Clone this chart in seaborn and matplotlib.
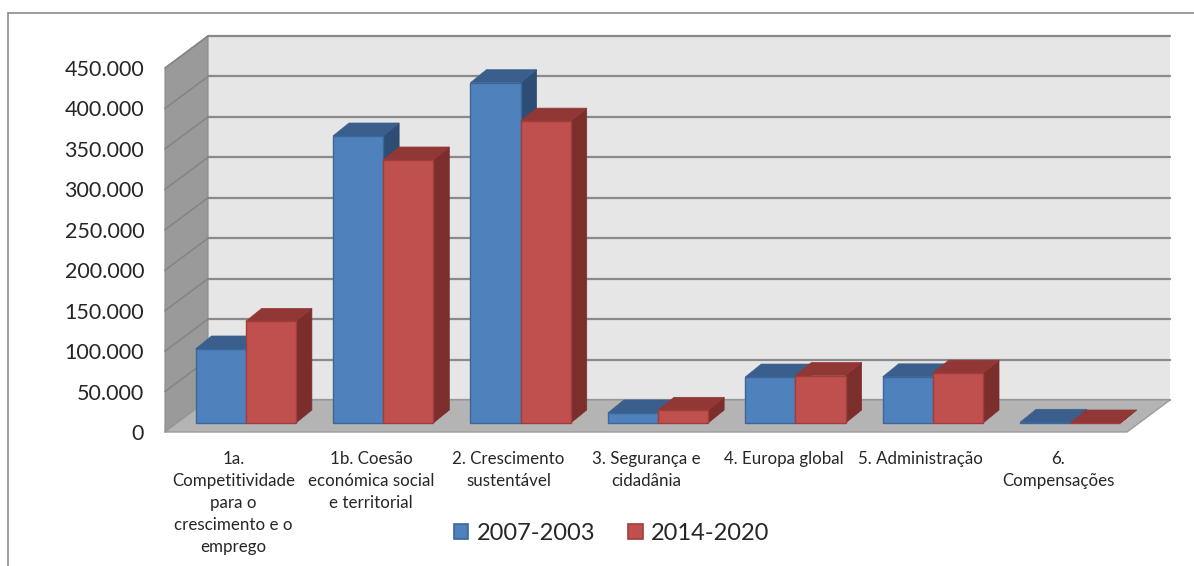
import matplotlib
matplotlib.use("Agg")
import matplotlib.pyplot as plt
import pandas as pd
import seaborn as sns
from matplotlib.patches import Polygon
from matplotlib.lines import Line2D

# ---- data (million EUR) ----
categories = [
    "1a.\nCompetitividade\npara o\ncrescimento e o\nemprego",
    "1b. Coesão\neconómica social\ne territorial",
    "2. Crescimento\nsustentável",
    "3. Segurança e\ncidadânia",
    "4. Europa global",
    "5. Administração",
    "6.\nCompensações",
]
periods = ["2007-2003", "2014-2020"]
values_2007 = [91495, 354815, 420682, 12366, 56815, 57082, 868]
values_2014 = [125614, 325149, 373179, 15686, 58704, 61629, 27]
y_ticks = [0, 50000, 100000, 150000, 200000, 250000, 300000, 350000, 400000, 450000]
y_tick_labels = [f"{v:,}".replace(",", ".") for v in y_ticks]

# ---- colours ----
front_col = ["#4f81bd", "#c0504d"]
edge_col = ["#3b679a", "#a03e3b"]
top_col = ["#3a5f8d", "#913836"]
side_col = ["#2e4d74", "#7c2e2c"]

df = pd.DataFrame({
    "categoria": categories * 2,
    "valor": values_2007 + values_2014,
    "periodo": [periods[0]] * len(categories) + [periods[1]] * len(categories),
})

sns.set_theme(style="white")
plt.rcParams["font.family"] = ["Lato", "DejaVu Sans"]

W, H = 1194, 566
fig = plt.figure(figsize=(W / 100, H / 100), dpi=100)
fig.patch.set_facecolor("white")

# front plane of the 3-D box, in pixels
x_left, x_right = 165, 1127
y_zero, y_max = 432, 68
ax = fig.add_axes([x_left / W, (H - y_zero) / H, (x_right - x_left) / W, (y_zero - y_max) / H])

ymax = y_ticks[-1]
ncat = len(categories)
px_per_cat = (x_right - x_left) / ncat
px_per_val = (y_zero - y_max) / ymax


def depth(px, py):
    """Convert a pixel depth shift into data units."""
    return px / px_per_cat, py / px_per_val


wall_dx, wall_dy = depth(43, 32)      # full depth of the box
bar_fx, bar_fy = depth(12, 9)         # front face of the bars
bar_bx, bar_by = depth(28, 22)        # back face of the bars

sns.barplot(data=df, x="categoria", y="valor", hue="periodo", order=categories,
            hue_order=periods, palette=front_col, width=0.73, saturation=1,
            ax=ax, legend=True)

ax.set_xlim(-0.5, ncat - 0.5)
ax.set_ylim(0, ymax)
ax.patch.set_visible(False)
for s in ax.spines.values():
    s.set_visible(False)

x0, x1 = -0.5, ncat - 0.5

# back wall
ax.add_patch(Polygon([(x0 + wall_dx, wall_dy), (x1 + wall_dx, wall_dy),
                      (x1 + wall_dx, ymax + wall_dy), (x0 + wall_dx, ymax + wall_dy)],
                     closed=True, facecolor="#e6e6e6", edgecolor="none",
                     zorder=0.5, clip_on=False))
# left wall
ax.add_patch(Polygon([(x0, 0), (x0, ymax), (x0 + wall_dx, ymax + wall_dy), (x0 + wall_dx, wall_dy)],
                     closed=True, facecolor="#9a9a9a", edgecolor="#8a8a8a", lw=0.8,
                     zorder=0.6, clip_on=False))
# grid lines on both walls
for v in y_ticks:
    ax.add_line(Line2D([x0 + wall_dx, x1 + wall_dx], [v + wall_dy, v + wall_dy],
                       color="#8a8a8a", lw=1.6, zorder=0.7, clip_on=False))
    ax.add_line(Line2D([x0, x0 + wall_dx], [v, v + wall_dy],
                       color="#858585", lw=1.2, zorder=0.7, clip_on=False))
# floor
ax.add_patch(Polygon([(x0, 0), (x1, 0), (x1 + wall_dx, wall_dy), (x0 + wall_dx, wall_dy)],
                     closed=True, facecolor="#b4b4b4", edgecolor="#9c9c9c", lw=1.0,
                     zorder=0.8, clip_on=False))

# extrude every bar into a box (front, top and right side faces)
for hi, cont in enumerate(ax.containers):
    for ci, bar in enumerate(cont.patches):
        x, w, h = bar.get_x(), bar.get_width(), bar.get_height()
        z = 2 + ci * 0.1 + hi * 0.05
        fx, fy = x + bar_fx, bar_fy
        bdx, bdy = bar_bx - bar_fx, bar_by - bar_fy
        bar.set_x(fx)
        bar.set_y(fy)
        bar.set_facecolor(front_col[hi])
        bar.set_edgecolor(edge_col[hi])
        bar.set_linewidth(1.0)
        bar.set_zorder(z + 0.02)
        bar.set_clip_on(False)
        side = Polygon([(fx + w, fy), (fx + w, fy + h), (fx + w + bdx, fy + h + bdy),
                        (fx + w + bdx, fy + bdy)], closed=True, facecolor=side_col[hi],
                       edgecolor=side_col[hi], lw=0.5, zorder=z, clip_on=False)
        top = Polygon([(fx, fy + h), (fx + w, fy + h), (fx + w + bdx, fy + h + bdy),
                       (fx + bdx, fy + h + bdy)], closed=True, facecolor=top_col[hi],
                      edgecolor=top_col[hi], lw=0.5, zorder=z + 0.01, clip_on=False)
        ax.add_patch(side)
        ax.add_patch(top)

# axes text
ax.set_xlabel("")
ax.set_ylabel("")
ax.set_yticks(y_ticks)
ax.set_yticklabels(y_tick_labels, fontsize=15.5)
ax.set_xticks(range(ncat))
ax.set_xticklabels(categories, fontsize=12.2, linespacing=1.47, va="top")
ax.tick_params(axis="y", length=0, pad=15)
ax.tick_params(axis="x", length=0, pad=13.5)

# legend below the plot
sns.move_legend(ax, "center", bbox_to_anchor=(611.5 / W, (H - 533) / H),
                bbox_transform=fig.transFigure, ncol=2, frameon=False, title=None,
                fontsize=17, handlelength=0.62, handleheight=0.62, handletextpad=0.35,
                columnspacing=1.4)
leg = ax.get_legend()
for hi, hnd in enumerate(leg.legend_handles):
    hnd.set_facecolor(front_col[hi])
    hnd.set_edgecolor(edge_col[hi])
    hnd.set_linewidth(1.2)

# chart-area border
fig.add_artist(Line2D([7.5 / W, 7.5 / W], [0, (H - 13) / H], color="#8c8c8c", lw=1.2,
                      transform=fig.transFigure))
fig.add_artist(Line2D([7.5 / W, 1], [(H - 13) / H, (H - 13) / H], color="#8c8c8c", lw=1.2,
                      transform=fig.transFigure))

fig.savefig("out.png", dpi=100, facecolor="white")
